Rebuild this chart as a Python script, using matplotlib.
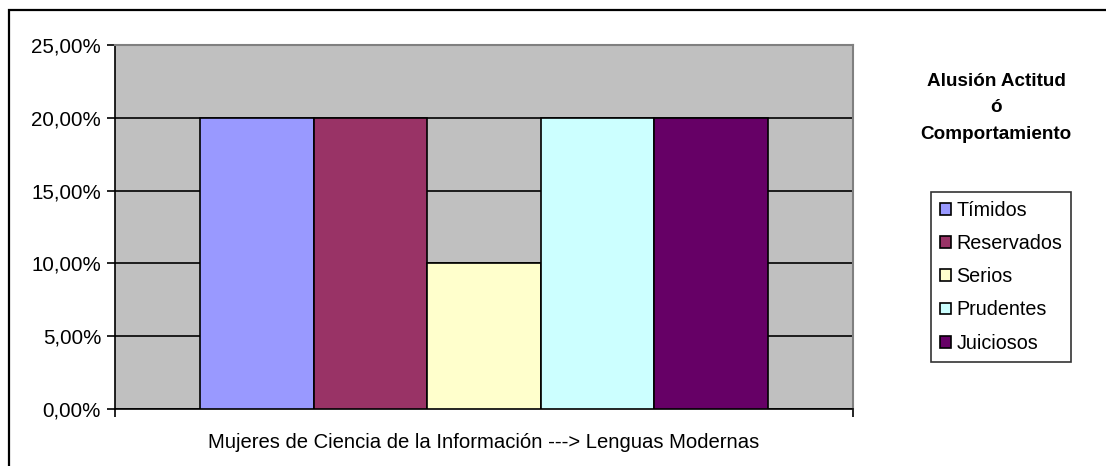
import numpy as np
import matplotlib
matplotlib.use("Agg")
import matplotlib.pyplot as plt
from matplotlib.patches import Rectangle
from matplotlib.ticker import FuncFormatter, MultipleLocator

series = ["Tímidos", "Reservados", "Serios", "Prudentes", "Juiciosos"]
values = [0.20, 0.20, 0.10, 0.20, 0.20]
colors = ["#9999FF", "#993366", "#FFFFCC", "#CCFFFF", "#660066"]
category = "Mujeres de Ciencia de la Información ---> Lenguas Modernas"
legend_title = "Alusión Actitud\nó\nComportamiento"

plt.rcParams["font.family"] = ["Liberation Sans", "DejaVu Sans"]

W, H = 1106, 466
fig = plt.figure(figsize=(W / 100, H / 100), dpi=100)

# outer chart frame (clipped at right / bottom in the original)
fig.patches.append(Rectangle((9 / W, -0.1), 1.2, 1 - 10 / H + 0.1, transform=fig.transFigure,
                             fill=False, edgecolor="black", linewidth=1.6, clip_on=False))

ax = fig.add_axes([115 / W, 57 / H, 738 / W, 364 / H])
ax.set_facecolor("#C0C0C0")

group = 0.77
bw = group / len(series)
xs = -group / 2 + bw / 2 + np.arange(len(series)) * bw
bars = ax.bar(xs, values, width=bw, color=colors, edgecolor="black", linewidth=1.2, zorder=3)

ax.set_xlim(-0.5, 0.5)
ax.set_ylim(0, 0.25)
ax.yaxis.set_major_locator(MultipleLocator(0.05))
ax.yaxis.set_major_formatter(FuncFormatter(lambda v, p: f"{v * 100:.2f}%".replace(".", ",")))
ax.grid(axis="y", color="black", linewidth=1.2, zorder=1)
ax.set_axisbelow(True)

ax.set_xticks([-0.5, 0.5])
ax.set_xticklabels(["", ""])
ax.tick_params(axis="both", direction="out", length=6, width=1.2, labelsize=14.8, colors="black")
ax.tick_params(axis="y", pad=4)
ax.set_xlabel(category, fontsize=14.6, labelpad=8)

for side in ["left", "bottom"]:
    ax.spines[side].set_color("black")
    ax.spines[side].set_linewidth(1.2)
for side in ["top", "right"]:
    ax.spines[side].set_color("#808080")
    ax.spines[side].set_linewidth(1.5)

fig.text(996 / W, 1 - 108 / H, legend_title, ha="center", va="center",
         fontsize=13.6, fontweight="bold", linespacing=1.72)

leg = fig.legend(bars, series, loc="upper left", bbox_to_anchor=(931 / W, 1 - 192 / H),
                 fontsize=14.2, frameon=True, fancybox=False, edgecolor="black",
                 handlelength=0.55, handleheight=0.55, handletextpad=0.3,
                 labelspacing=0.72, borderpad=0.45, borderaxespad=0)
leg.get_frame().set_linewidth(1.2)

fig.savefig("out.png", dpi=100)
